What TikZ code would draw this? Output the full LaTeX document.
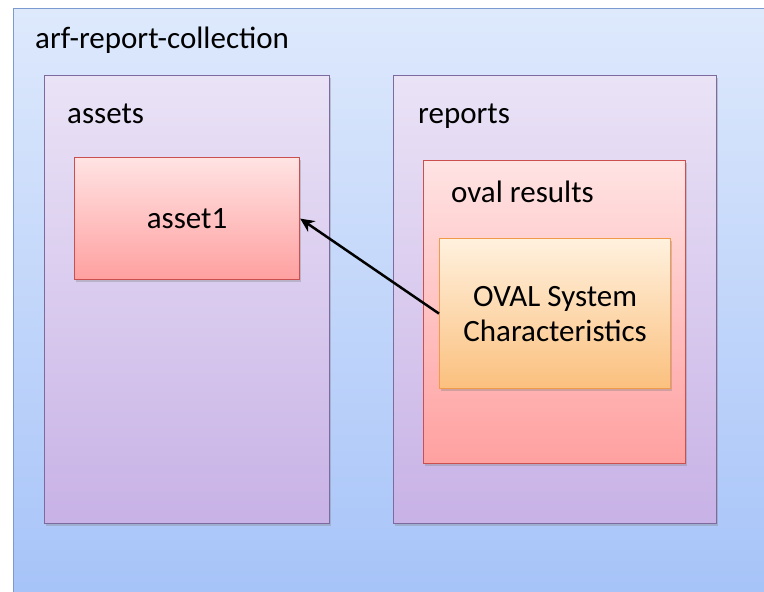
\documentclass[tikz,border=0pt]{standalone}
\usepackage{fontspec}
\setmainfont{Carlito}
\usetikzlibrary{positioning, arrows.meta, shadows}

\definecolor{outerTop}{HTML}{DEE9FC}
\definecolor{outerBot}{HTML}{A3C1F8}
\definecolor{outerLine}{HTML}{7B9BD0}
\definecolor{purpTop}{HTML}{EAE3F6}
\definecolor{purpBot}{HTML}{C8B2E6}
\definecolor{purpLine}{HTML}{7D6A9E}
\definecolor{redTop}{HTML}{FFE3E3}
\definecolor{redBot}{HTML}{FFA0A0}
\definecolor{redLine}{HTML}{C9504E}
\definecolor{oraTop}{HTML}{FFF1DE}
\definecolor{oraBot}{HTML}{FBC07E}
\definecolor{oraLine}{HTML}{F09A4A}

\tikzset{
    box/.style={rectangle, draw, line width=1.2pt, anchor=north west, inner sep=0pt,
        drop shadow={shadow xshift=1pt, shadow yshift=-2pt, opacity=0.35}},
    purplebox/.style={box, draw=purpLine, top color=purpTop, bottom color=purpBot},
    redbox/.style={box, draw=redLine, top color=redTop, bottom color=redBot},
    orangebox/.style={box, draw=oraLine, top color=oraTop, bottom color=oraBot,
        align=center, font=\fontsize{31}{35}\selectfont},
    title/.style={anchor=base west, inner sep=0pt, font=\fontsize{31}{35}\selectfont},
}

\begin{document}
\begin{tikzpicture}[x=1pt, y=-1pt]
        \useasboundingbox (0,0) rectangle (764,592);
        \clip (0,0) rectangle (764,592);
        % Collection
        \node[box, draw=outerLine, line width=1pt, top color=outerTop, bottom color=outerBot,
            minimum width=790pt, minimum height=620pt, drop shadow={opacity=0}] (coll) at (13,8) {};
        \node[title] (colltitle) at (35,48) {arf-report-collection};

        % Assets
        \node[purplebox, minimum width=285pt, minimum height=448pt] (assets) at (44,75) {};
        \node[title] (assetstitle) at (67,123) {assets};
        \node[redbox, minimum width=225pt, minimum height=122pt,
            font=\fontsize{31}{35}\selectfont] (asset1) at (74,157) {asset1};

        % Reports
        \node[purplebox, minimum width=323pt, minimum height=448pt] (reports) at (393,75) {};
        \node[title] (reportstitle) at (418,123) {reports};
        \node[redbox, minimum width=262pt, minimum height=303pt] (ovalres) at (423,160) {};
        \node[title] (ovalrestitle) at (451,202) {oval results};
        \node[orangebox, minimum width=231pt, minimum height=150pt] (osc) at (439,238)
            {OVAL System\\Characteristics};

        % Reference
        \draw[line width=2.5pt, -{Stealth[length=14pt, width=13pt]}] (osc.west) -- (asset1.east);
    \end{tikzpicture}
\end{document}
